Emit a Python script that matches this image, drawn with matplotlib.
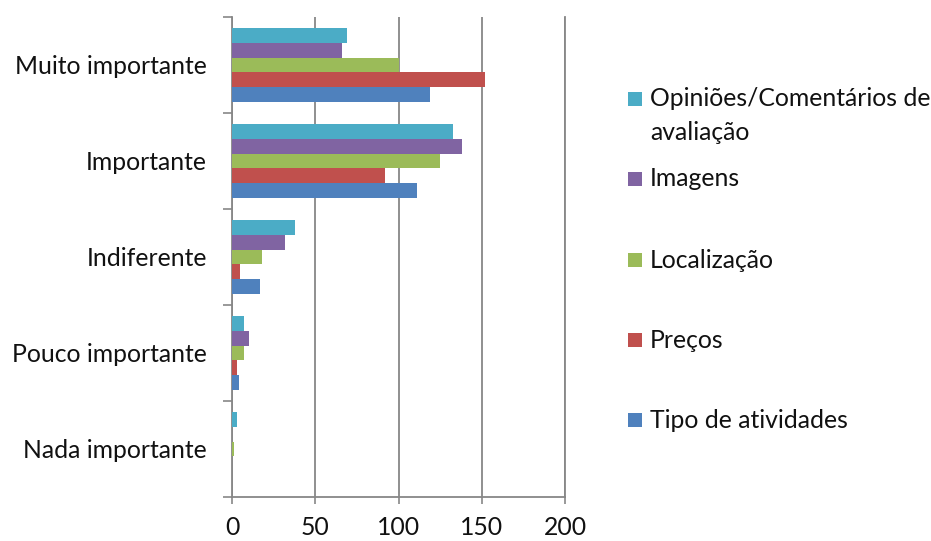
import textwrap
import numpy as np
import matplotlib
matplotlib.use("Agg")
import matplotlib.pyplot as plt
from matplotlib.patches import Rectangle

# Survey data: importance ratings per criterion
categories = ["Nada importante", "Pouco importante", "Indiferente",
              "Importante", "Muito importante"]
series_names = ["Tipo de atividades", "Preços", "Localização", "Imagens",
                "Opiniões/Comentários de avaliação"]
tipo_atividades = [0, 4, 17, 111, 119]
precos = [0, 3, 5, 92, 152]
localizacao = [1, 7, 18, 125, 100]
imagens = [0, 10, 32, 138, 66]
opinioes = [3, 7, 38, 133, 69]
x_ticks = [0, 50, 100, 150, 200]

series_values = [tipo_atividades, precos, localizacao, imagens, opinioes]
colors = ["#4F81BD", "#C0504D", "#9BBB59", "#8064A2", "#4BACC6"]

plt.rcParams["font.family"] = ["Lato", "DejaVu Sans"]
FS = 17.8
GRAY = "#878787"

W, H = 931, 541
fig = plt.figure(figsize=(W / 100, H / 100), dpi=100)
ax = fig.add_axes([232 / W, 44 / H, 333 / W, 480 / H])

n = len(series_names)
bar_h = 0.153
y = np.arange(len(categories))
for i, (vals, col) in enumerate(zip(series_values, colors)):
    ax.barh(y + (i - (n - 1) / 2) * bar_h, vals, height=bar_h, color=col,
            edgecolor="none", zorder=3)

ax.set_xlim(x_ticks[0], x_ticks[-1])
ax.set_ylim(-0.5, len(categories) - 0.5)

ax.set_xticks(x_ticks)
ax.set_xticklabels([str(t) for t in x_ticks], fontsize=FS, color="#111111")
ax.tick_params(axis="x", direction="out", length=5, width=1.2, color=GRAY, pad=9)

ax.set_yticks(y)
ax.set_yticklabels(categories, fontsize=FS, color="#111111")
ax.set_yticks(np.arange(-0.5, len(categories)), minor=True)
ax.tick_params(axis="y", which="major", length=0, pad=18)
ax.tick_params(axis="y", which="minor", direction="out", length=6.5, width=1.2, color=GRAY)

ax.xaxis.grid(True, color=GRAY, linewidth=1.3, zorder=0)
ax.set_axisbelow(True)
for side in ["left", "bottom", "right"]:
    ax.spines[side].set_color(GRAY)
    ax.spines[side].set_linewidth(1.3)
ax.spines["top"].set_visible(False)


def fx(px):
    return px / W


def fy(py):
    return 1 - py / H


# Legend, top entry first
legend_y = [99, 179, 260, 340, 420]
line_step = 33
for name, col, ly in zip(reversed(series_names), reversed(colors), legend_y):
    fig.patches.append(Rectangle((fx(628), fy(ly + 7)), 14 / W, 14 / H,
                                 transform=fig.transFigure, facecolor=col,
                                 edgecolor="none"))
    for k, line in enumerate(textwrap.wrap(name, 23)):
        fig.text(fx(650), fy(ly + k * line_step), line, fontsize=FS,
                 color="#111111", va="center", ha="left")

fig.savefig("out.png", dpi=100)
